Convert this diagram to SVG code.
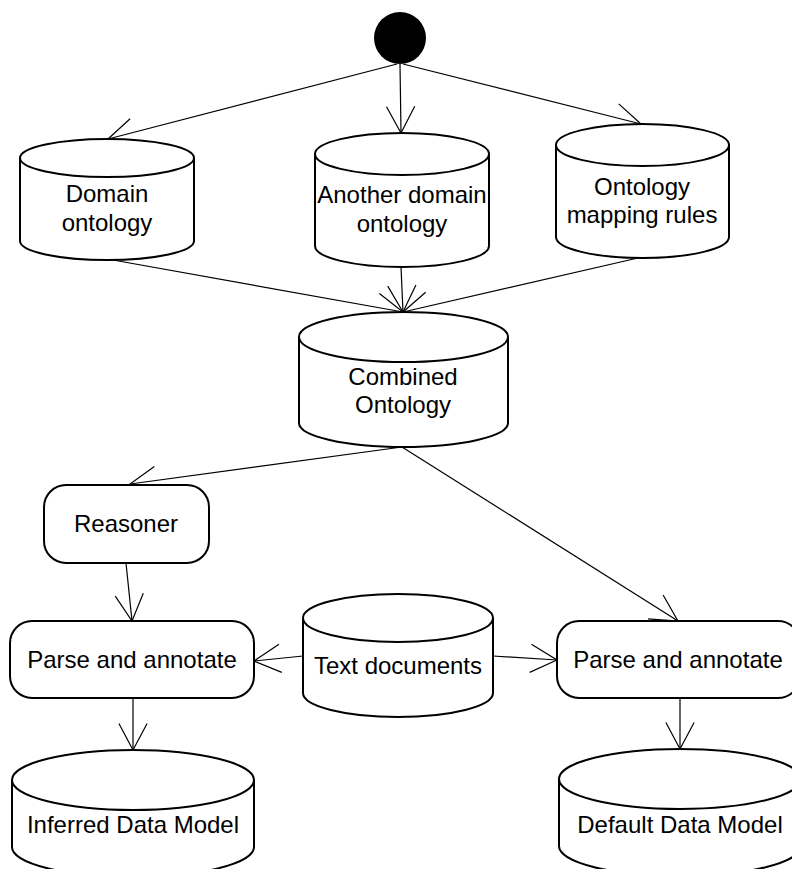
<svg xmlns="http://www.w3.org/2000/svg" width="792" height="869" viewBox="0 0 792 869">
<style>
.s{fill:#fff;stroke:#000;stroke-width:2}
.t{font-family:"Liberation Sans",Arial,sans-serif;font-size:24px;fill:#000;text-anchor:middle}
.c line{stroke:#000;stroke-width:1.2;marker-end:url(#a)}
</style>
<defs>
<marker id="a" markerUnits="userSpaceOnUse" markerWidth="40" markerHeight="40" refX="30" refY="20" orient="auto" overflow="visible">
<path d="M3.5,5.9 L30,20 L3.5,34.1" fill="none" stroke="#000" stroke-width="1.2"/>
</marker>
</defs>
<rect width="792" height="869" fill="#fff"/>
<g class="c" id="connectors">
<line x1="397" y1="64" x2="108" y2="139"/>
<line x1="400" y1="64" x2="401" y2="133"/>
<line x1="403" y1="64" x2="641" y2="124"/>
<line x1="113" y1="260" x2="403" y2="312"/>
<line x1="401" y1="267" x2="403" y2="312"/>
<line x1="638" y1="258" x2="403" y2="312"/>
<line x1="402" y1="447" x2="130" y2="484"/>
<line x1="402" y1="447" x2="678" y2="621"/>
<line x1="126" y1="563" x2="132" y2="621"/>
<line x1="303" y1="656" x2="254" y2="661"/>
<line x1="493" y1="656" x2="557" y2="660"/>
<line x1="133" y1="698" x2="133" y2="750"/>
<line x1="680" y1="698" x2="680" y2="749"/>
</g>
<g id="start"><circle cx="400" cy="38" r="26" fill="#000"/></g>
<g id="domain">
<path class="s" d="M20,158 A87,19 0 0 1 194,158 L194,241 A87,19 0 0 1 20,241 Z"/>
<path class="s" fill="none" d="M20,158 A87,19 0 0 0 194,158"/>
<text class="t" x="107" y="202">Domain</text><text class="t" x="107" y="231">ontology</text>
</g>
<g id="another">
<path class="s" d="M315,154 A87,21 0 0 1 489,154 L489,246 A87,21 0 0 1 315,246 Z"/>
<path class="s" d="M315,154 A87,21 0 0 0 489,154"/>
<text class="t" x="402" y="203">Another domain</text><text class="t" x="402" y="232">ontology</text>
</g>
<g id="mapping">
<path class="s" d="M556,145 A86.5,21 0 0 1 729,145 L729,237 A86.5,21 0 0 1 556,237 Z"/>
<path class="s" d="M556,145 A86.5,21 0 0 0 729,145"/>
<text class="t" x="642" y="195">Ontology</text><text class="t" x="642" y="223">mapping rules</text>
</g>
<g id="combined">
<path class="s" d="M299,337 A104.5,25 0 0 1 508,337 L508,423 A104.5,24 0 0 1 299,423 Z"/>
<path class="s" d="M299,337 A104.5,25 0 0 0 508,337"/>
<text class="t" x="403" y="385">Combined</text><text class="t" x="403" y="413">Ontology</text>
</g>
<g id="reasoner">
<rect class="s" x="44" y="485" width="165" height="78" rx="22"/>
<text class="t" x="126" y="532">Reasoner</text>
</g>
<g id="parse1">
<rect class="s" x="10" y="621" width="244" height="77" rx="22"/>
<text class="t" x="132" y="668">Parse and annotate</text>
</g>
<g id="textdocs">
<path class="s" d="M303,618 A95,24 0 0 1 493,618 L493,693 A95,24 0 0 1 303,693 Z"/>
<path class="s" d="M303,618 A95,24 0 0 0 493,618"/>
<text class="t" x="398" y="674">Text documents</text>
</g>
<g id="parse2">
<rect class="s" x="557" y="621" width="243" height="77" rx="22"/>
<text class="t" x="678" y="668">Parse and annotate</text>
</g>
<g id="inferred">
<path class="s" d="M12,780 A121,30 0 0 1 254,780 L254,847 A121,30 0 0 1 12,847 Z"/>
<path class="s" d="M12,780 A121,30 0 0 0 254,780"/>
<text class="t" x="133" y="833">Inferred Data Model</text>
</g>
<g id="default">
<path class="s" d="M559,779 A121,30 0 0 1 801,779 L801,846 A121,30 0 0 1 559,846 Z"/>
<path class="s" d="M559,779 A121,30 0 0 0 801,779"/>
<text class="t" x="680" y="833">Default Data Model</text>
</g>
</svg>
